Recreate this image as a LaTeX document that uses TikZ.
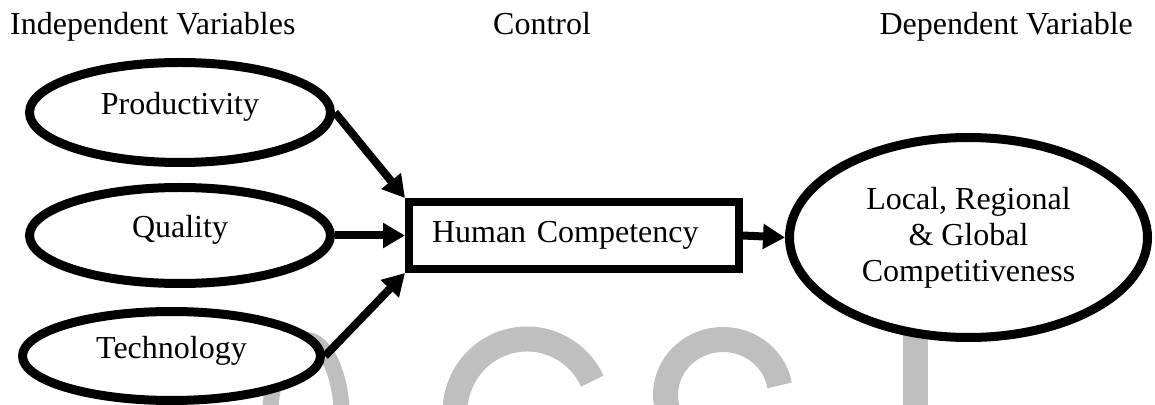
\documentclass[tikz,border=0pt]{standalone}
\usepackage{fontspec}
\setmainfont{Liberation Serif}
\usetikzlibrary{shapes.geometric,arrows.meta}
\begin{document}
\begin{tikzpicture}[x=1pt,y=1pt,
  every node/.style={font=\fontsize{32}{36}\selectfont},
  header/.style={inner sep=0pt},
  oval/.style={ellipse, draw, line width=9pt, fill=white, inner sep=0pt},
  soval/.style={oval, text height=14pt, text depth=9pt},
  ctrlbox/.style={rectangle, draw, line width=8pt, fill=white, inner ysep=0pt,
    inner xsep=23pt, text width=284pt, align=left, minimum height=67pt},
  link/.style={line width=8pt, -{Triangle[length=22pt,width=24pt]}},
  wmark/.style={draw=black!25, line width=25pt}
]
\useasboundingbox (0,0) rectangle (1155,404);

% faint lettering behind the diagram
\begin{scope}
  \clip (0,0) rectangle (1155,404);
  \draw[wmark, line width=16pt] (306,-16) ++(-15:36 and 80)
    arc[start angle=-15, end angle=195, x radius=36, y radius=80];
  \draw[wmark] (527,-8) ++(25:72 and 73)
    arc[start angle=25, end angle=200, x radius=72, y radius=73];
  \draw[wmark] (723,9) ++(10:57.5 and 55.5)
    arc[start angle=10, end angle=200, x radius=57.5, y radius=55.5];
  \fill[black!25] (903,-5) rectangle (928,80);
\end{scope}

% column headings
\node[header, anchor=base west] (h1) at (10,369) {Independent Variables};
\node[header, anchor=base west] (h2) at (493,369) {Control};
\node[header, anchor=base east] (h3) at (1133,369) {Dependent Variable};

% independent variables
\node[soval, minimum width=301pt, minimum height=100pt] (prod) at (180,291.5) {Productivity};
\node[soval, minimum width=301pt, minimum height=96pt] (qual) at (180,168.5) {Quality};
\node[soval, minimum width=298pt, minimum height=89pt] (tech) at (171.5,48) {Technology};

% control
\node[ctrlbox] (ctrl) at (574,168.5) {Human Competency};

% dependent variable
\node[oval, align=center, minimum width=358pt, minimum height=200pt] (dep) at (968.5,166.5)
  {Local, Regional\\ \& Global\\ Competitiveness};

% connectors
\draw[link] (prod.east) -- (ctrl.north west);
\draw[link] (qual.east) -- (ctrl.west);
\draw[link] (tech.east) -- (ctrl.south west);
\draw[link] (ctrl.east) -- (dep.west);
\end{tikzpicture}
\end{document}
